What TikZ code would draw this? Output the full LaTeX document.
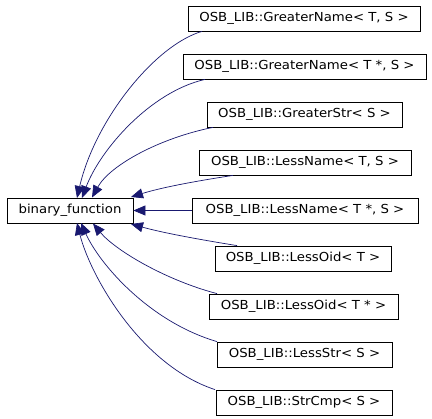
\documentclass[tikz,border=0pt]{standalone}
\usepackage{fontspec}
\setmainfont[FakeStretch=1.07]{DejaVu Sans}
\usetikzlibrary{arrows.meta}
\definecolor{edgeblue}{HTML}{191970}
\begin{document}
\begin{tikzpicture}[x=1pt,y=-1pt,
  box/.style={draw=black,line width=0.8pt,minimum height=25pt,inner sep=0pt,font=\fontsize{12.4}{15}\selectfont,anchor=center},
  inh/.style={draw=edgeblue,line width=0.7pt,-{Triangle[length=12pt,width=10pt]}},
]
\useasboundingbox (0,0) rectangle (432,419);
\fill[white] (0,0) rectangle (432,419);
\node[box,minimum width=126pt] (bf) at (70,210.5) {binary\_function};
\node[box,minimum width=232pt] (b1) at (304,18.5) {OSB\_LIB::GreaterName< T, S >};
\node[box,minimum width=243pt] (b2) at (304.5,66.5) {OSB\_LIB::GreaterName< T *, S >};
\node[box,minimum width=195pt] (b3) at (304.5,114.5) {OSB\_LIB::GreaterStr< S >};
\node[box,minimum width=212pt] (b4) at (305,162.5) {OSB\_LIB::LessName< T, S >};
\node[box,minimum width=226pt] (b5) at (305,210.5) {OSB\_LIB::LessName< T *, S >};
\node[box,minimum width=176pt] (b6) at (303,258.5) {OSB\_LIB::LessOid< T >};
\node[box,minimum width=189pt] (b7) at (303.5,306.5) {OSB\_LIB::LessOid< T * >};
\node[box,minimum width=175pt] (b8) at (304.5,354.5) {OSB\_LIB::LessStr< S >};
\node[box,minimum width=176pt] (b9) at (304,402.5) {OSB\_LIB::StrCmp< S >};
\coordinate (t1) at (77,198);
\coordinate (t2) at (82,198);
\coordinate (t3) at (92,197.5);
\coordinate (t4) at (131,197);
\coordinate (t6) at (131,224);
\coordinate (t7) at (93,223.5);
\coordinate (t8) at (81,223);
\coordinate (t9) at (77,223);
\draw[inh] ([xshift=-102pt]b1.south) .. controls (155,45) and (95,120) .. (t1);
\draw[inh] ([xshift=-99.5pt]b2.south) .. controls (150,92) and (100,150) .. (t2);
\draw[inh] ([xshift=-91.5pt]b3.south) .. controls (160,138) and (110,165) .. (t3);
\draw[inh] ([xshift=-72pt]b4.south) .. controls (190,182) and (160,188) .. (t4);
\draw[inh] (b5.west) -- (bf.east);
\draw[inh] ([xshift=-66pt]b6.north) .. controls (190,238) and (160,232) .. (t6);
\draw[inh] ([xshift=-86.5pt]b7.north) .. controls (165,280) and (115,250) .. (t7);
\draw[inh] ([xshift=-87.5pt]b8.north) .. controls (150,322) and (100,265) .. (t8);
\draw[inh] ([xshift=-89pt]b9.north) .. controls (140,365) and (90,275) .. (t9);
\end{tikzpicture}
\end{document}
